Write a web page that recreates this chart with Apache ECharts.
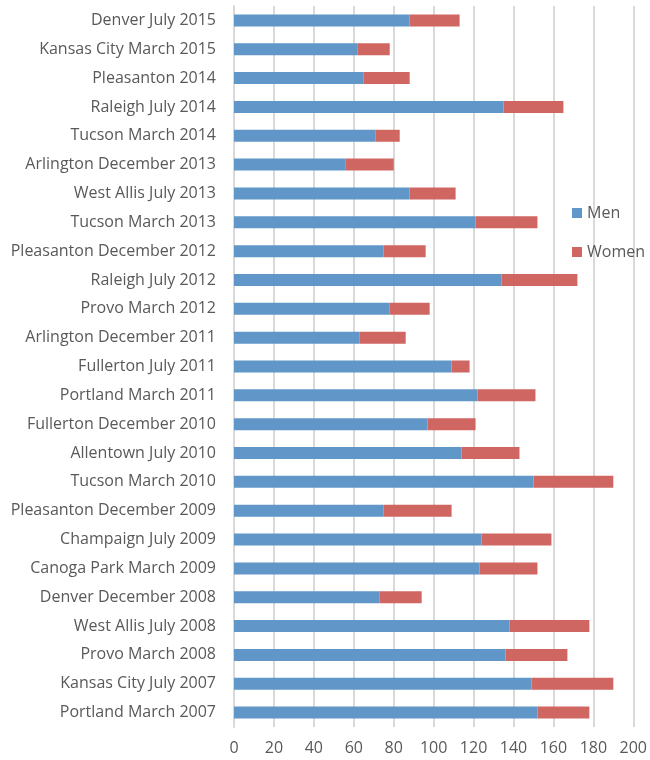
<!DOCTYPE html>
<html>
<head>
<meta charset="utf-8">
<script src="https://cdn.jsdelivr.net/npm/echarts@6/dist/echarts.min.js"></script>
<style>
html,body{margin:0;padding:0;background:#fff;}
#chart{width:650px;height:760px;}
</style>
</head>
<body>
<div id="chart"></div>
<script>
const categories = [
  "Denver July 2015","Kansas City March 2015","Pleasanton 2014","Raleigh July 2014",
  "Tucson March 2014","Arlington December 2013","West Allis July 2013","Tucson March 2013",
  "Pleasanton December 2012","Raleigh July 2012","Provo March 2012","Arlington December 2011",
  "Fullerton July 2011","Portland March 2011","Fullerton December 2010","Allentown July 2010",
  "Tucson March 2010","Pleasanton December 2009","Champaign July 2009","Canoga Park March 2009",
  "Denver December 2008","West Allis July 2008","Provo March 2008","Kansas City July 2007",
  "Portland March 2007"
];
const men = [88,62,65,135,71,56,88,121,75,134,78,63,109,122,97,114,150,75,124,123,73,138,136,149,152];
const women = [25,16,23,30,12,24,23,31,21,38,20,23,9,29,24,29,40,34,35,29,21,40,31,41,26];
const xTicks = [0,20,40,60,80,100,120,140,160,180,200];

const chart = echarts.init(document.getElementById('chart'), null, {renderer:'canvas'});
const font = "'Open Sans', 'Liberation Sans', sans-serif";
chart.setOption({
  animation:false,
  textStyle:{fontFamily:font},
  grid:{left:234, right:16, top:6, bottom:33, containLabel:false},
  legend:{
    orient:'vertical', left:567, top:200, itemWidth:10, itemHeight:10, itemGap:23,
    icon:'rect',
    textStyle:{color:'#595959', fontSize:16, fontFamily:font},
    data:['Men','Women']
  },
  xAxis:{
    type:'value', min:xTicks[0], max:xTicks[xTicks.length-1], interval:20,
    axisLine:{show:false}, axisTick:{show:false},
    axisLabel:{color:'#595959', fontSize:16, margin:13, fontFamily:font},
    splitLine:{show:true, lineStyle:{color:'#d9d9d9', width:2}}
  },
  yAxis:{
    type:'category', data:categories, inverse:true,
    axisLine:{show:true, lineStyle:{color:'#d9d9d9', width:2}},
    axisTick:{show:false},
    axisLabel:{color:'#595959', fontSize:16, margin:18, fontFamily:font}
  },
  series:[
    {name:'Men', type:'bar', stack:'t', data:men, barWidth:12,
     itemStyle:{color:'#6097c8'}},
    {name:'Women', type:'bar', stack:'t', data:women, barWidth:12,
     itemStyle:{color:'#cf6661'}}
  ]
});
</script>
</body>
</html>
